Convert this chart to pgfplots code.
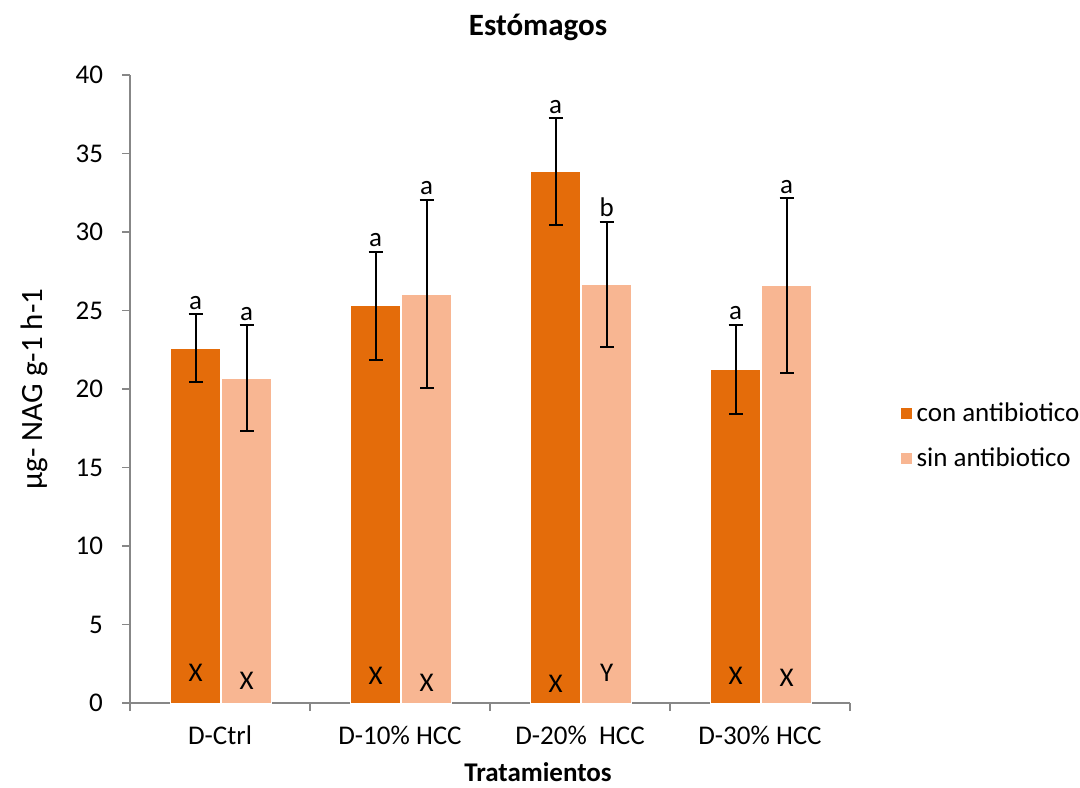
\documentclass[border=0pt]{standalone}
\usepackage{fontspec}
\setmainfont{Carlito}
\usepackage{pgfplots}
\usepackage{pgfplotstable}
\pgfplotsset{compat=1.18}
\definecolor{conc}{HTML}{E46C0A}
\definecolor{sinc}{HTML}{F8B692}
\definecolor{axgray}{HTML}{878787}
\newcommand\cf{\fontsize{13.5}{16}\selectfont}
\pgfplotstableread{
x con conerr sin sinerr
0 22.6 2.15 20.7 3.35
1 25.3 3.45 26.05 6.0
2 33.85 3.4 26.65 4.0
3 21.25 2.85 26.6 5.55
}\data
\begin{document}
\begin{tikzpicture}
\useasboundingbox (-65pt,-42pt) rectangle (475pt,351.5pt);
\begin{axis}[
  at={(0pt,0pt)}, anchor=south west,
  width=360pt, height=314pt, scale only axis,
  ymin=0, ymax=40, xmin=-0.5, xmax=3.5,
  ytick={0,5,...,40},
  xtick={-0.5,0.5,1.5,2.5,3.5}, xticklabels={},
  extra x ticks={0,1,2,3},
  extra x tick labels={D-Ctrl, D-10\% HCC, D-20\%\ \ HCC, D-30\% HCC},
  extra x tick style={major tick length=0pt, xticklabel style={yshift=-8pt}},
  yticklabel style={xshift=-6pt},
  axis x line*=bottom, axis y line*=left,
  axis line style={draw=axgray, line width=0.8pt, -},
  tick style={draw=axgray, line width=0.8pt},
  tick align=outside, major tick length=4pt,
  ybar,
  ticklabel style={font=\cf},
  /pgf/number format/assume math mode=true,
  legend style={at={(1.06,0.425)}, anchor=west, draw=none, fill=none, font=\cf, row sep=8pt},
  legend cell align=left,
  legend image code/.code={\fill[#1] (0pt,-3pt) rectangle (6pt,3pt);},
  error bars/error bar style={black, line width=1pt, solid},
  error bars/error mark options={rotate=90, mark size=3.5pt, line width=1pt, black},
]
\addplot[fill=conc, draw=white, line width=0.5pt, bar width=0.275, bar shift=-0.135,
  error bars/.cd, y dir=both, y explicit]
  table[x=x, y=con, y error=conerr] {\data};
\addlegendentry{con antibiotico}
\addplot[fill=sinc, draw=white, line width=0.5pt, bar width=0.275, bar shift=0.148,
  error bars/.cd, y dir=both, y explicit]
  table[x=x, y=sin, y error=sinerr] {\data};
\addlegendentry{sin antibiotico}
% significance letters
\node[font=\cf, anchor=base, yshift=2.5pt] at (axis cs:-0.135,24.75) {a};
\node[font=\cf, anchor=base, yshift=2.5pt] at (axis cs:0.148,24.05) {a};
\node[font=\cf, anchor=base, yshift=2.5pt] at (axis cs:0.865,28.75) {a};
\node[font=\cf, anchor=base, yshift=2.5pt] at (axis cs:1.148,32.05) {a};
\node[font=\cf, anchor=base, yshift=2.5pt] at (axis cs:1.865,37.25) {a};
\node[font=\cf, anchor=base, yshift=2.5pt] at (axis cs:2.148,30.65) {b};
\node[font=\cf, anchor=base, yshift=2.5pt] at (axis cs:2.865,24.1) {a};
\node[font=\cf, anchor=base, yshift=2.5pt] at (axis cs:3.148,32.15) {a};
\node[font=\cf] at (axis cs:-0.135,1.9) {X};
\node[font=\cf] at (axis cs:0.148,1.4) {X};
\node[font=\cf] at (axis cs:0.865,1.7) {X};
\node[font=\cf] at (axis cs:1.148,1.3) {X};
\node[font=\cf] at (axis cs:1.865,1.2) {X};
\node[font=\cf] at (axis cs:2.148,1.9) {Y};
\node[font=\cf] at (axis cs:2.865,1.7) {X};
\node[font=\cf] at (axis cs:3.148,1.6) {X};
\end{axis}
\node[font=\fontsize{15.5}{18}\selectfont\bfseries] at (204pt,338pt) {Estómagos};
\node[font=\cf\bfseries] at (204pt,-34.5pt) {Tratamientos};
\node[font=\fontsize{15.5}{18}\selectfont, rotate=90] at (-48pt,157pt) {µg- NAG g-1 h-1};
\end{tikzpicture}
\end{document}
